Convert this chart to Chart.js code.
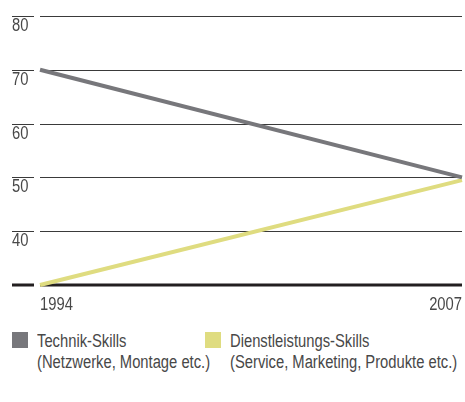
<!DOCTYPE html>
<html>
<head>
<meta charset="utf-8">
<script src="https://cdn.jsdelivr.net/npm/chart.js@4/dist/chart.umd.min.js"></script>
<style>
    body { margin: 0; background: #fff; }
    #wrap { position: relative; width: 465px; height: 402px; }
    #skillChart { position: absolute; left: 0; top: 0; }
    .legend {
        position: absolute; top: 331px;
        font-family: "Liberation Sans", Arial, sans-serif;
        font-size: 18px; line-height: 21px; color: #484848;
    }
    .legend .box { position: absolute; left: 0; top: 1px; width: 16px; height: 16px; }
    .legend .txt {
        position: absolute; left: 25px; top: 0; white-space: nowrap;
        transform: scaleX(0.82); transform-origin: 0 0;
    }
</style>
</head>
<body>
<div id="wrap">
    <canvas id="skillChart" width="465" height="320"></canvas>
    <div class="legend" style="left:12px">
        <div class="box" style="background:#77777b"></div>
        <div class="txt">Technik-Skills<br>(Netzwerke, Montage etc.)</div>
    </div>
    <div class="legend" style="left:205px">
        <div class="box" style="background:#dfdc80"></div>
        <div class="txt">Dienstleistungs-Skills<br>(Service, Marketing, Produkte etc.)</div>
    </div>
</div>
<script>
const years = ["1994", "2007"];
const technikSkills = [70, 50];
const dienstSkills = [30, 49.5];
const yTicks = [30, 40, 50, 60, 70, 80];

const FONT = '18px "Liberation Sans", Arial, sans-serif';
const SQUEEZE = 0.82;

// narrow text: scale horizontally around the anchor point
function narrowText(ctx, text, x, y, align) {
    ctx.save();
    ctx.translate(x, y);
    ctx.scale(SQUEEZE, 1);
    ctx.textAlign = align;
    ctx.fillText(text, 0, 0);
    ctx.restore();
}

// grid lines, short marks at the left with their labels below, year labels
const gridPlugin = {
    id: "skillGrid",
    beforeDatasetsDraw(chart) {
        const ctx = chart.ctx;
        const area = chart.chartArea;
        const y = chart.scales.y;
        const x = chart.scales.x;
        ctx.save();
        ctx.font = FONT;
        ctx.fillStyle = "#484848";
        ctx.textBaseline = "alphabetic";
        yTicks.forEach(v => {
            const py = y.getPixelForValue(v);
            const base = v === yTicks[0];
            ctx.strokeStyle = base ? "#231f20" : "#3a3a3a";
            ctx.lineWidth = base ? 3 : 1;
            const off = base ? 0 : 0.5;
            ctx.beginPath();
            ctx.moveTo(12, Math.round(py) + off);
            ctx.lineTo(34, Math.round(py) + off);
            ctx.moveTo(area.left, Math.round(py) + off);
            ctx.lineTo(area.right, Math.round(py) + off);
            ctx.stroke();
            if (!base) {
                narrowText(ctx, String(v), 12, Math.round(py) + 15, "left");
            }
        });
        const yb = y.getPixelForValue(yTicks[0]) + 25;
        narrowText(ctx, years[0], x.getPixelForValue(0), yb, "left");
        narrowText(ctx, years[1], x.getPixelForValue(1), yb, "right");
        ctx.restore();
    }
};

new Chart(document.getElementById("skillChart").getContext("2d"), {
    type: "line",
    data: {
        labels: years,
        datasets: [
            {
                label: "Technik-Skills",
                data: technikSkills,
                borderColor: "#77777b",
                borderWidth: 4,
                pointRadius: 0,
                clip: false
            },
            {
                label: "Dienstleistungs-Skills",
                data: dienstSkills,
                borderColor: "#dfdc80",
                borderWidth: 4,
                pointRadius: 0,
                clip: false
            }
        ]
    },
    options: {
        responsive: false,
        animation: false,
        layout: { padding: { left: 40, right: 3, top: 16, bottom: 35 } },
        plugins: { legend: { display: false }, tooltip: { enabled: false } },
        scales: {
            x: { display: false, offset: false },
            y: { display: false, min: 30, max: 80 }
        }
    },
    plugins: [gridPlugin]
});
</script>
</body>
</html>
